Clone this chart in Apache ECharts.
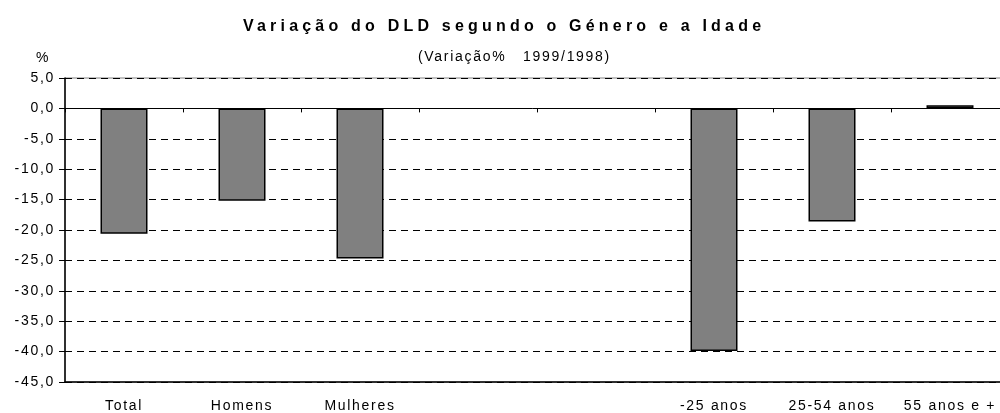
<!DOCTYPE html>
<html>
<head>
<meta charset="utf-8">
<script src="https://cdn.jsdelivr.net/npm/echarts@6/dist/echarts.min.js"></script>
<style>
  html, body { margin: 0; padding: 0; background: #fff; }
  #chart { width: 1000px; height: 413px; }
</style>
</head>
<body>
<div id="chart"></div>
<script>
// data
const categories = ['Total', 'Homens', 'Mulheres', '', '', '-25 anos', '25-54 anos', '55 anos e +'];
const variacao = [-20.6, -15.2, -24.7, '-', '-', -39.9, -18.6, 0.5];
const yTicks = { min: -45, max: 5, step: 5 };

// the old excel export has wide letter spacing, canvas can do it
const spacingFor = function (font) {
  return /bold/.test(font) ? '4.2px' : '1.7px';
};
['fillText', 'strokeText', 'measureText'].forEach(function (name) {
  const orig = CanvasRenderingContext2D.prototype[name];
  CanvasRenderingContext2D.prototype[name] = function () {
    this.letterSpacing = spacingFor(this.font);
    return orig.apply(this, arguments);
  };
});

const fontFamily = '"Liberation Sans", Arial, sans-serif';

let myChart = echarts.init(document.getElementById('chart'), null, { renderer: 'canvas' });
let option = {
  animation: false,
  title: [
    {
      text: 'Variação do DLD segundo o Género e a Idade',
      left: 243,
      top: 16,
      padding: 0,
      textStyle: { fontSize: 16, fontWeight: 'bold', color: '#000', fontFamily: fontFamily }
    },
    {
      text: '(Variação%   1999/1998)',
      left: 418,
      top: 49,
      padding: 0,
      textStyle: { fontSize: 14, fontWeight: 'normal', color: '#000', fontFamily: fontFamily }
    },
    {
      text: '%',
      left: 36,
      top: 50,
      padding: 0,
      textStyle: { fontSize: 14, fontWeight: 'normal', color: '#000', fontFamily: fontFamily }
    }
  ],
  grid: {
    left: 65,
    top: 78,
    right: -9,
    bottom: 31,
    show: true,
    borderColor: '#808080',
    borderWidth: 1,
    containLabel: false,
    outerBoundsMode: 'none'
  },
  xAxis: [
    {
      type: 'category',
      data: categories,
      axisLine: { onZero: true, lineStyle: { color: '#000', width: 1 } },
      axisTick: { show: true, length: 4, lineStyle: { color: '#000', width: 1 } },
      axisLabel: { show: false },
      splitLine: { show: false }
    },
    {
      type: 'category',
      data: categories,
      position: 'bottom',
      axisLine: { onZero: false, lineStyle: { color: '#000', width: 1.5 } },
      axisTick: { show: false },
      axisLabel: { show: true, margin: 16, fontSize: 14, color: '#000', fontFamily: fontFamily, interval: 0 },
      splitLine: { show: false }
    }
  ],
  yAxis: {
    type: 'value',
    min: yTicks.min,
    max: yTicks.max,
    interval: yTicks.step,
    axisLine: { show: true, lineStyle: { color: '#000', width: 1.5 } },
    axisTick: { show: true, length: 6, lineStyle: { color: '#000', width: 1 } },
    axisLabel: {
      margin: 10,
      fontSize: 14,
      color: '#000',
      fontFamily: fontFamily,
      formatter: function (v) { return v.toFixed(1).replace('.', ','); }
    },
    splitLine: { show: true, lineStyle: { color: '#000', width: 1, type: [7, 5] } }
  },
  series: [
    {
      name: 'Variação',
      type: 'bar',
      xAxisIndex: 0,
      data: variacao,
      barWidth: 47,
      itemStyle: { color: '#808080', borderColor: '#000', borderWidth: 1.5 }
    }
  ]
};
myChart.setOption(option);
</script>
</body>
</html>
